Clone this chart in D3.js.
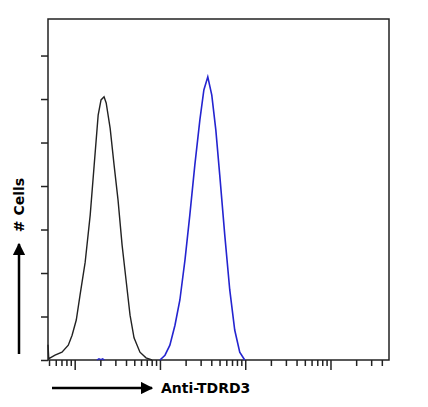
<!DOCTYPE html>
<html><head><meta charset="utf-8">
<script src="https://cdn.jsdelivr.net/npm/d3@7"></script>
<style>body{margin:0;background:#fff}</style>
</head><body><div class="chart"></div>
<script>
// fluorescence channel (log) and cell counts
var controlChannel = [0.48, 0.49, 0.51, 0.58, 0.70, 0.83, 0.92, 1.03, 1.14, 1.31, 1.50, 1.67, 1.86, 2.01, 2.18, 2.31, 2.57, 2.86, 3.18, 3.55, 3.95, 4.40, 4.90, 5.75, 6.77, 7.95];
var controlCount = [35, 3, 5, 11, 18, 34, 57, 92, 149, 225, 333, 448, 563, 598, 605, 591, 533, 448, 368, 264, 184, 103, 51, 18, 5, 0];
var stainedChannel = [9.87, 11.3, 12.9, 14.8, 16.9, 19.4, 22.1, 25.3, 29.0, 32.3, 35.9, 40.0, 44.6, 49.6, 56.8, 65.0, 74.3, 85.1, 97.3];
var stainedCount = [0, 11, 34, 80, 138, 230, 333, 448, 552, 621, 651, 609, 529, 425, 287, 161, 69, 18, 0];
var blipChannel = [1.80, 1.90, 2.00, 2.10, 2.20];
var blipCount = [0, 3, 1, 3, 0];
var yTicks = [0, 100, 200, 300, 400, 500, 600, 700];

var svgWidth = 428, svgHeight = 407;
var margin = {top: 19, right: 39, bottom: 47, left: 48};
var width = svgWidth - margin.left - margin.right;
var height = svgHeight - margin.top - margin.bottom;

var svg = d3.select(".chart").append("svg")
    .attr("width", svgWidth).attr("height", svgHeight);
var chartGroup = svg.append("g")
    .attr("transform", `translate(${margin.left}, ${margin.top})`);

var x = d3.scaleLog().domain([0.48, 4790]).range([0, width]);
var y = d3.scaleLinear().domain([0, 784]).range([height, 0]);

// frame
chartGroup.append("rect").attr("width", width).attr("height", height)
    .attr("fill", "none").attr("stroke", "#222").attr("stroke-width", 1.5);

// y ticks
chartGroup.append("g").call(d3.axisLeft(y).tickValues(yTicks).tickSize(7).tickFormat(""))
    .call(g => g.select(".domain").remove())
    .selectAll("line").attr("stroke", "#222").attr("stroke-width", 1.5);

// x ticks, log decades
var xTicks = [];
[0.1, 1, 10, 100, 1000].forEach(function(d) {
    for (var k = 1; k < 10; k++) {
        var v = d * k;
        if (v >= 0.48 && v <= 4790) xTicks.push(v);
    }
});
chartGroup.append("g").attr("transform", `translate(0, ${height})`)
    .selectAll("line").data(xTicks).enter().append("line")
    .attr("x1", d => x(d)).attr("x2", d => x(d))
    .attr("y1", 0)
    .attr("y2", d => Math.abs(Math.log10(d) - Math.round(Math.log10(d))) < 1e-6 ? 10 : 6)
    .attr("stroke", "#222").attr("stroke-width", 1.5);

var line = d3.line().x(d => x(d[0])).y(d => y(d[1]));

chartGroup.append("path").datum(d3.zip(controlChannel, controlCount))
    .attr("d", line).attr("fill", "none").attr("stroke", "#222").attr("stroke-width", 1.4);
chartGroup.append("path").datum(d3.zip(stainedChannel, stainedCount))
    .attr("d", line).attr("fill", "none").attr("stroke", "#2424d0").attr("stroke-width", 1.6);
chartGroup.append("path").datum(d3.zip(blipChannel, blipCount))
    .attr("d", line).attr("fill", "none").attr("stroke", "#2424d0").attr("stroke-width", 1.3);

// arrows and labels
svg.append("defs").append("marker").attr("id", "arr")
    .attr("viewBox", "0 0 10 10").attr("refX", 9).attr("refY", 5)
    .attr("markerWidth", 5).attr("markerHeight", 5).attr("orient", "auto")
    .append("path").attr("d", "M0,0L10,5L0,10z").attr("fill", "#000");

svg.append("line").attr("x1", 52).attr("x2", 152).attr("y1", 388).attr("y2", 388)
    .attr("stroke", "#000").attr("stroke-width", 2.5).attr("marker-end", "url(#arr)");
svg.append("text").attr("x", 161).attr("y", 393)
    .style("font", "bold 14px 'DejaVu Sans'").text("Anti-TDRD3");

svg.append("line").attr("x1", 19).attr("x2", 19).attr("y1", 354).attr("y2", 244)
    .attr("stroke", "#000").attr("stroke-width", 2.5).attr("marker-end", "url(#arr)");
svg.append("text").attr("transform", "translate(24, 205) rotate(-90)")
    .attr("text-anchor", "middle")
    .style("font", "bold 14px 'DejaVu Sans'").text("# Cells");
</script></body></html>
